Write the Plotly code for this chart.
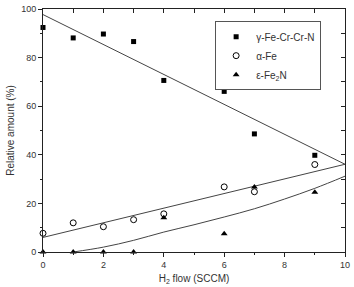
import plotly.graph_objects as go

# Data
flow = [0, 1, 2, 3, 4, 6, 7, 9]
gamma_vals = [92.4, 88.1, 89.7, 86.6, 70.6, 66.1, 48.6, 39.8]
alpha_vals = [7.7, 12.0, 10.4, 13.3, 15.7, 26.8, 24.8, 36.0]
eps_vals = [0.0, 0.0, 0.0, 0.0, 14.1, 7.5, 26.8, 24.6]

# Fit curves
fit_gamma_x = [0, 10]
fit_gamma_y = [97.7, 36.1]
fit_alpha_x = [0, 10]
fit_alpha_y = [6.0, 36.1]
fit_eps_x = [1, 2, 3, 4, 5, 6, 7, 8, 9, 10]
fit_eps_y = [0.0, 2.0, 4.8, 8.2, 11.2, 14.4, 17.8, 21.8, 26.2, 31.2]

names = ["γ-Fe-Cr-Cr-N", "α-Fe", "ε-Fe<sub>2</sub>N"]

x_ticks = [0, 2, 4, 6, 8, 10]
y_ticks = [0, 20, 40, 60, 80, 100]

line_col = "#444444"
fig = go.Figure()
for fx, fy in [(fit_gamma_x, fit_gamma_y), (fit_alpha_x, fit_alpha_y), (fit_eps_x, fit_eps_y)]:
    fig.add_trace(go.Scatter(x=fx, y=fy, mode="lines", line=dict(color=line_col, width=1, shape="spline"),
                             showlegend=False, hoverinfo="skip"))

fig.add_trace(go.Scatter(x=flow, y=gamma_vals, mode="markers", name=names[0],
                         marker=dict(symbol="square", size=5, color="black", line=dict(width=0)), cliponaxis=False))
fig.add_trace(go.Scatter(x=flow, y=alpha_vals, mode="markers", name=names[1],
                         marker=dict(symbol="circle-open", size=6, color="black", line=dict(width=1)), cliponaxis=False))
fig.add_trace(go.Scatter(x=flow, y=eps_vals, mode="markers", name=names[2],
                         marker=dict(symbol="triangle-up", size=6, color="black", line=dict(width=0)), cliponaxis=False))

# dummy trace for mirrored inner-tick axes
fig.add_trace(go.Scatter(x=[None], y=[None], xaxis="x2", yaxis="y2", showlegend=False, hoverinfo="skip"))

font_col = "#333333"
fig.update_layout(
    width=354, height=287,
    margin=dict(l=43, r=4, t=4, b=33),
    paper_bgcolor="white", plot_bgcolor="white",
    font=dict(family="Liberation Sans, Arial, sans-serif", size=10, color=font_col),
    showlegend=True,
    legend=dict(x=0.57, y=0.95, xanchor="left", yanchor="top",
                bgcolor="white", bordercolor="#555555", borderwidth=1,
                font=dict(size=10, color=font_col), itemwidth=30, tracegroupgap=0),
    xaxis=dict(range=[0, 10], tickvals=x_ticks, ticktext=[str(v) for v in x_ticks],
               showgrid=False, zeroline=False, showline=True, linecolor="#222222", linewidth=1,
               mirror=True, ticks="outside", ticklen=4, tickcolor="#222222",
               ticklabeloverflow="allow",
               minor=dict(dtick=1, tick0=0, ticks="outside", ticklen=2, tickcolor="#222222"),
               title=dict(text="H<sub>2</sub> flow (SCCM)", standoff=6, font=dict(size=10)),
               tickfont=dict(size=9)),
    yaxis=dict(range=[0, 100], tickvals=y_ticks, ticktext=[str(v) for v in y_ticks],
               showgrid=False, zeroline=False, showline=True, linecolor="#222222", linewidth=1,
               mirror=True, ticks="outside", ticklen=4, tickcolor="#222222",
               ticklabeloverflow="allow",
               minor=dict(dtick=10, tick0=0, ticks="outside", ticklen=2, tickcolor="#222222"),
               title=dict(text="Relative amount (%)", standoff=4, font=dict(size=10)),
               tickfont=dict(size=9)),
    xaxis2=dict(range=[0, 10], overlaying="x", side="top", dtick=1, tick0=0, ticks="inside",
                ticklen=4, tickcolor="#222222", showticklabels=False, showgrid=False,
                zeroline=False, showline=False),
    yaxis2=dict(range=[0, 100], overlaying="y", side="right", dtick=10, tick0=0, ticks="inside",
                ticklen=4, tickcolor="#222222", showticklabels=False, showgrid=False,
                zeroline=False, showline=False),
)

fig.write_html("out.html")
